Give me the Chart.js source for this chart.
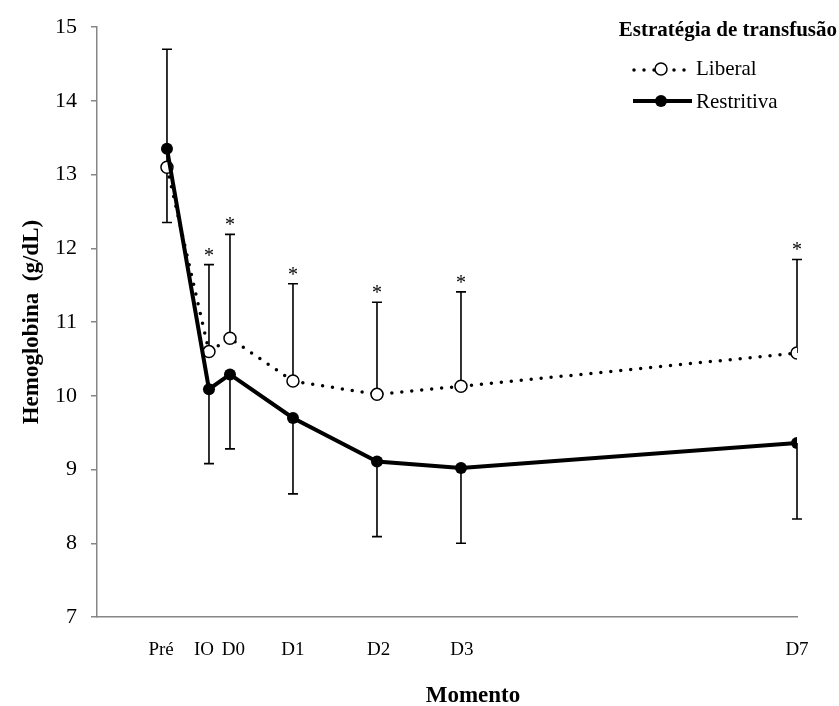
<!DOCTYPE html>
<html>
<head>
<meta charset="utf-8">
<script src="https://cdn.jsdelivr.net/npm/chart.js@4/dist/chart.umd.min.js"></script>
<style>
body { margin: 0; background: #fff; }
</style>
</head>
<body>
<canvas id="chart1" width="839" height="706"></canvas>
<script>
// dados
const momentos = ["Pré", "IO", "D0", "D1", "D2", "D3", "D7"];
const diasX = [-0.5, 0, 0.25, 1, 2, 3, 7];
const rotuloX = [-0.57, -0.06, 0.29, 1, 2.02, 3.01, 7];
const liberal = [13.1, 10.6, 10.78, 10.2, 10.02, 10.13, 10.58];
const restritiva = [13.35, 10.09, 10.29, 9.7, 9.11, 9.02, 9.36];
const liberalSup = [14.7, 11.78, 12.19, 11.52, 11.27, 11.41, 11.85];
const restritivaInf = [12.35, 9.08, 9.28, 8.67, 8.09, 8.0, 8.33];
const asterisco = [false, true, true, true, true, true, true];

const serif = "'Liberation Serif', 'Times New Roman', serif";

function pontos(valores) {
    return diasX.map((x, i) => ({ x: x, y: valores[i] }));
}

// barras de erro + asteriscos
const errorBars = {
    id: "errorBars",
    beforeDatasetsDraw(chart) {
        const ctx = chart.ctx;
        const xs = chart.scales.x;
        const ys = chart.scales.y;
        ctx.save();
        ctx.strokeStyle = "#000";
        ctx.lineWidth = 1.6;
        ctx.fillStyle = "#000";
        ctx.font = "20px " + serif;
        ctx.textAlign = "center";
        ctx.textBaseline = "alphabetic";
        diasX.forEach((d, i) => {
            const px = xs.getPixelForValue(d);
            const y1 = ys.getPixelForValue(liberal[i]);
            const y2 = ys.getPixelForValue(liberalSup[i]);
            ctx.beginPath();
            ctx.moveTo(px, y1);
            ctx.lineTo(px, y2);
            ctx.moveTo(px - 5, y2);
            ctx.lineTo(px + 5, y2);
            const y3 = ys.getPixelForValue(restritiva[i]);
            const y4 = ys.getPixelForValue(restritivaInf[i]);
            ctx.moveTo(px, y3);
            ctx.lineTo(px, y4);
            ctx.moveTo(px - 5, y4);
            ctx.lineTo(px + 5, y4);
            ctx.stroke();
            if (asterisco[i]) {
                ctx.fillText("*", px, y2 - 3);
            }
        });
        ctx.restore();
    },
    afterDraw(chart) {
        const ctx = chart.ctx;
        ctx.save();
        ctx.fillStyle = "#000";
        // titulo eixo x
        ctx.font = "bold 23px " + serif;
        ctx.textAlign = "center";
        ctx.textBaseline = "middle";
        ctx.fillText("Momento", 473, 696);
        // legenda
        ctx.font = "bold 21px " + serif;
        ctx.textAlign = "right";
        ctx.textBaseline = "alphabetic";
        ctx.fillText("Estratégia de transfusão", 837, 36);
        ctx.font = "21px " + serif;
        ctx.textAlign = "left";
        ctx.fillText("Liberal", 696, 75);
        ctx.fillText("Restritiva", 696, 108);
        // amostra liberal
        ctx.strokeStyle = "#000";
        ctx.lineCap = "round";
        ctx.lineWidth = 3.5;
        ctx.setLineDash([0, 10]);
        ctx.beginPath();
        ctx.moveTo(634, 70);
        ctx.lineTo(690, 70);
        ctx.stroke();
        ctx.setLineDash([]);
        ctx.beginPath();
        ctx.arc(661, 69, 6, 0, Math.PI * 2);
        ctx.fillStyle = "#fff";
        ctx.fill();
        ctx.lineWidth = 1.5;
        ctx.stroke();
        // amostra restritiva
        ctx.lineWidth = 4;
        ctx.lineCap = "butt";
        ctx.beginPath();
        ctx.moveTo(633, 101);
        ctx.lineTo(692, 101);
        ctx.stroke();
        ctx.beginPath();
        ctx.arc(661, 101, 6, 0, Math.PI * 2);
        ctx.fillStyle = "#000";
        ctx.fill();
        ctx.restore();
    }
};

new Chart(document.getElementById("chart1"), {
    type: "line",
    data: {
        datasets: [{
            label: "Restritiva",
            data: pontos(restritiva),
            borderColor: "#000",
            borderWidth: 4,
            pointRadius: 6,
            pointBackgroundColor: "#000",
            pointBorderWidth: 0,
            tension: 0
        }, {
            label: "Liberal",
            data: pontos(liberal),
            borderColor: "#000",
            borderWidth: 3.5,
            borderDash: [0, 10],
            borderCapStyle: "round",
            pointRadius: 6,
            pointBackgroundColor: "#fff",
            pointBorderColor: "#000",
            pointBorderWidth: 1.5,
            tension: 0
        }]
    },
    options: {
        responsive: false,
        animation: false,
        devicePixelRatio: 1,
        layout: { padding: { top: 24, right: 42, left: 0, bottom: 0 } },
        plugins: {
            legend: { display: false },
            tooltip: { enabled: false }
        },
        scales: {
            x: {
                type: "linear",
                min: -1.333,
                max: 7,
                afterBuildTicks: (s) => { s.ticks = rotuloX.map(v => ({ value: v })); },
                afterFit: (s) => { s.height = 89; },
                ticks: {
                    autoSkip: false,
                    maxRotation: 0,
                    padding: 14,
                    color: "#000",
                    font: { family: serif, size: 19 },
                    callback: (v, i) => momentos[i]
                },
                grid: { display: false },
                border: { color: "#868686", width: 1.5 }
            },
            y: {
                min: 7,
                max: 15,
                afterFit: (s) => { s.width = 97; },
                ticks: {
                    stepSize: 1,
                    padding: 14,
                    color: "#000",
                    font: { family: serif, size: 22 }
                },
                grid: { drawOnChartArea: false, tickLength: 6, color: "#868686", lineWidth: 1.5 },
                border: { color: "#868686", width: 1.5 },
                title: {
                    display: true,
                    text: "Hemoglobina  (g/dL)",
                    color: "#000",
                    font: { family: serif, size: 23, weight: "bold", lineHeight: 1 },
                    padding: { top: 21, bottom: 0 }
                }
            }
        }
    },
    plugins: [errorBars]
});
</script>
</body>
</html>
